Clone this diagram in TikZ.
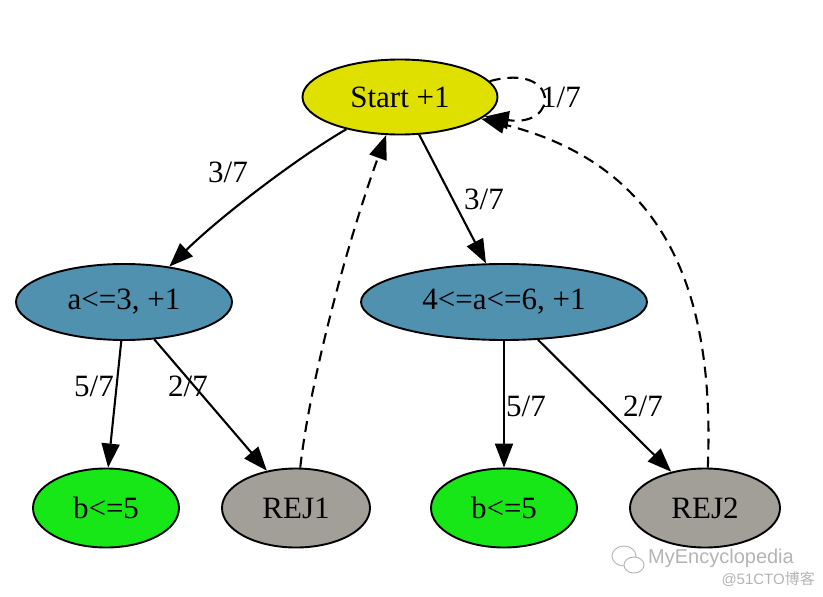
\documentclass[tikz,border=0pt]{standalone}
\usepackage{fontspec}
\setmainfont{Liberation Serif}
\newfontfamily\wmfont{Liberation Sans}
\newfontfamily\cjkwm{Noto Sans CJK SC}
\usetikzlibrary{arrows.meta,shapes.geometric}
\definecolor{startyellow}{HTML}{E0E000}
\definecolor{steelblue}{HTML}{4F91AF}
\definecolor{leafgreen}{HTML}{17E617}
\definecolor{rejgray}{HTML}{A19F98}
\definecolor{wmgray}{HTML}{B4B4B4}
\tikzset{
  state/.style={ellipse, draw=black, line width=1.9pt, inner sep=0pt,
    font=\fontsize{31}{36}\selectfont},
  edge/.style={line width=2.1pt, -{Triangle[length=24pt,width=18pt]}},
  back/.style={edge, dash pattern=on 11pt off 7pt},
  lbl/.style={font=\fontsize{31}{36}\selectfont, inner sep=0pt},
}
\begin{document}
\begin{tikzpicture}[x=1pt,y=-1pt]
\useasboundingbox (0,0) rectangle (823,597);
% nodes
\node[state, fill=startyellow, minimum width=195pt, minimum height=75pt] (s) at (400,97) {Start +1};
\node[state, fill=steelblue, minimum width=216pt, minimum height=76pt] (a) at (124,302) {a<=3, +1};
\node[state, fill=steelblue, minimum width=286pt, minimum height=76pt] (m) at (504,302) {4<=a<=6, +1};
\node[state, fill=leafgreen, minimum width=146pt, minimum height=79pt] (bl) at (106,508) {b<=5};
\node[state, fill=rejgray, minimum width=148pt, minimum height=79pt] (r1) at (296,508) {REJ1};
\node[state, fill=leafgreen, minimum width=146pt, minimum height=79pt] (br) at (504,508) {b<=5};
\node[state, fill=rejgray, minimum width=150pt, minimum height=79pt] (r2) at (705,508) {REJ2};
% edges
\draw[edge] (s.211) .. controls (300,156) and (222,215) .. (a.38);
\draw[edge] (s.297) -- (m.115);
\draw[edge] (a.266) -- (bl.87);
\draw[edge] (a.309) -- (r1.128);
\draw[edge] (m.270) -- (br.90);
\draw[edge] (m.312) -- (r2.133);
\draw[back] (r1.84) .. controls (310,380) and (348,240) .. (s.250);
\draw[back] (r2.86) .. controls (715,290) and (665,165) .. (s.345);
\draw[back] (s.10) .. controls (560,62) and (560,128) .. (s.-13);
% labels
\node[lbl] (l1) at (228,172) {3/7};
\node[lbl] (l2) at (484,199) {3/7};
\node[lbl] (l3) at (94,386) {5/7};
\node[lbl] (l4) at (188,386) {2/7};
\node[lbl] (l5) at (526,406) {5/7};
\node[lbl] (l6) at (643,406) {2/7};
\node[lbl] (l7) at (561,97) {1/7};
% watermark
\begin{scope}[draw=wmgray, line width=0.9pt]
\draw[fill=white] (624,556) ellipse (12pt and 10pt);
\draw[fill=white] (634,565) ellipse (10pt and 8pt);
\end{scope}
\node[font=\wmfont\fontsize{20}{22}\selectfont, text=wmgray, inner sep=0pt, anchor=west] (wm1) at (648,558) {MyEncyclopedia};
\node[font=\fontsize{15}{17}\selectfont, text=wmgray, inner sep=0pt, anchor=east] (wm2) at (815,579) {\wmfont @51CTO\cjkwm 博客};
\end{tikzpicture}
\end{document}
